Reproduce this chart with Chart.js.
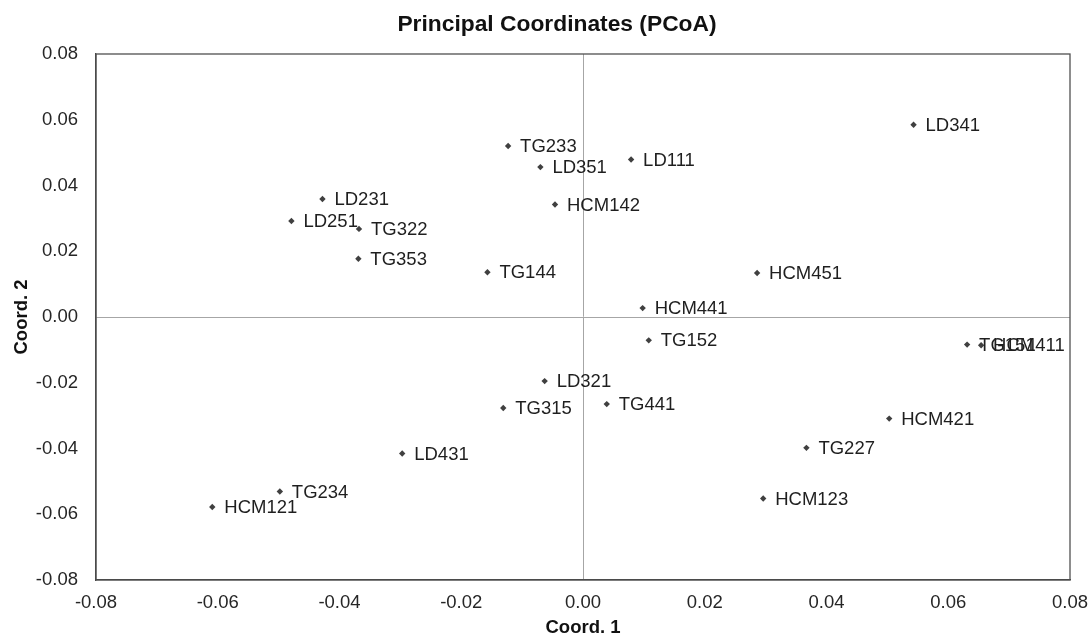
<!DOCTYPE html>
<html>
<head>
<meta charset="utf-8">
<title>PCoA</title>
<script src="https://cdn.jsdelivr.net/npm/chart.js@4/dist/chart.umd.min.js"></script>
<style>
  html, body { margin: 0; padding: 0; background: #fff; }
  #wrap { width: 1090px; height: 637px; }
</style>
</head>
<body>
<div id="wrap"><canvas id="pcoa" width="1090" height="637"></canvas></div>
<script>
// sample names and their first two principal coordinates
const sampleNames = ['LD341', 'TG233', 'LD351', 'LD111', 'LD231', 'LD251', 'TG322', 'HCM142',
  'TG353', 'TG144', 'HCM451', 'HCM441', 'TG151', 'HCM411', 'TG152', 'LD321', 'TG315', 'TG441',
  'HCM421', 'LD431', 'TG227', 'TG234', 'HCM121', 'HCM123'];
const coord1 = [0.0543, -0.0123, -0.0070, 0.0079, -0.0428, -0.0479, -0.0368, -0.0046,
  -0.0369, -0.0157, 0.0286, 0.0098, 0.0631, 0.0654, 0.0108, -0.0063, -0.0131, 0.0039,
  0.0503, -0.0297, 0.0367, -0.0498, -0.0609, 0.0296];
const coord2 = [0.0585, 0.0520, 0.0456, 0.0479, 0.0359, 0.0292, 0.0268, 0.0342,
  0.0177, 0.0136, 0.0134, 0.0027, -0.0084, -0.0086, -0.0071, -0.0195, -0.0277, -0.0265,
  -0.0309, -0.0415, -0.0398, -0.0531, -0.0578, -0.0552];
const axisMin = -0.08, axisMax = 0.08, axisStep = 0.02;
const chartTitle = 'Principal Coordinates (PCoA)';

const FONT = "'Liberation Sans', Arial, sans-serif";

// title, outline box around the plot, and the name next to each point
const plotExtras = {
  id: 'plotExtras',
  afterDatasetsDraw(chart) {
    const { ctx, chartArea: a } = chart;
    ctx.save();
    ctx.font = `18.5px ${FONT}`;
    ctx.fillStyle = '#1f1f1f';
    ctx.textAlign = 'left';
    ctx.textBaseline = 'middle';
    chart.getDatasetMeta(0).data.forEach((pt, i) => {
      ctx.fillText(sampleNames[i], pt.x + 12, pt.y + 1);
    });
    ctx.strokeStyle = '#505050';
    ctx.lineWidth = 1.3;
    ctx.strokeRect(a.left, a.top, a.right - a.left, a.bottom - a.top);

    ctx.font = `bold 22.8px ${FONT}`;
    ctx.fillStyle = '#111';
    ctx.textAlign = 'center';
    ctx.fillText(chartTitle, 557, 25);
    ctx.restore();
  },
};

const zeroGrid = c => (Math.abs(c.tick.value) < 1e-9 ? '#a6a6a6' : 'rgba(0,0,0,0)');
const fmt = v => (Math.abs(v) < 1e-9 ? 0 : v).toFixed(2);

new Chart(document.getElementById('pcoa'), {
  type: 'scatter',
  data: {
    datasets: [{
      data: coord1.map((x, i) => ({ x, y: coord2[i] })),
      pointStyle: 'rectRot',
      pointRadius: 3.2,
      backgroundColor: '#404040',
      borderColor: '#404040',
      borderWidth: 0,
    }],
  },
  options: {
    responsive: false,
    animation: false,
    layout: { padding: { left: 0, right: 20, top: 54, bottom: 0 } },
    plugins: {
      legend: { display: false },
      tooltip: { enabled: false },
      title: { display: false },
    },
    scales: {
      x: {
        type: 'linear',
        min: axisMin, max: axisMax,
        ticks: { stepSize: axisStep, callback: fmt, color: '#262626', padding: 12,
          font: { family: FONT, size: 18.5 }, maxRotation: 0 },
        grid: { color: zeroGrid, lineWidth: 1, drawTicks: false },
        border: { display: true, color: '#404040', width: 1.3 },
        title: { display: true, text: 'Coord. 1', color: '#111', padding: 0,
          font: { family: FONT, size: 18.5, weight: 'bold', lineHeight: 1 } },
        afterFit(s) {
          s.height = 57;
          s.paddingLeft = 0;
          s.paddingRight = 0;
        },
      },
      y: {
        type: 'linear',
        min: axisMin, max: axisMax,
        ticks: { stepSize: axisStep, callback: fmt, color: '#262626', padding: 18,
          font: { family: FONT, size: 18.5 } },
        grid: { color: zeroGrid, lineWidth: 1, drawTicks: false },
        border: { display: true, color: '#404040', width: 1.3 },
        title: { display: true, text: 'Coord. 2', color: '#111', padding: { top: 13, bottom: 0 },
          font: { family: FONT, size: 18.5, weight: 'bold', lineHeight: 1 } },
        afterFit(s) {
          s.width = 96;
          s.paddingTop = 0;
          s.paddingBottom = 0;
        },
      },
    },
  },
  plugins: [plotExtras],
});
</script>
</body>
</html>
